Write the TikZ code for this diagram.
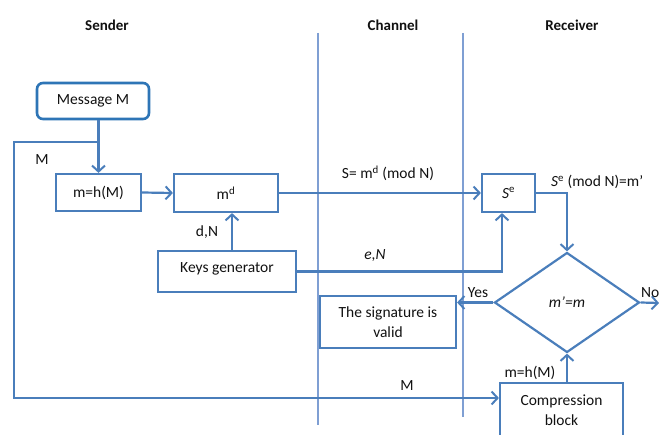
\documentclass[tikz,border=0pt]{standalone}
\usepackage{fontspec}
\setmainfont{Carlito}
\usetikzlibrary{shapes.geometric,arrows.meta}
\definecolor{lineblue}{HTML}{4A7EBB}
\definecolor{chanblue}{HTML}{7F9FD3}
\definecolor{msgblue}{HTML}{2E75B6}
\definecolor{txt}{HTML}{111111}
\tikzset{
  x=1pt,y=-1pt,
  every node/.style={text=txt,font=\fontsize{15.5}{18}\selectfont},
  box/.style={draw=lineblue,line width=2.2pt,inner sep=0pt,align=center},
  arr/.style={draw=lineblue,line width=2.2pt,-{Straight Barb[length=6pt,width=13pt,line width=2pt]}},
  hdr/.style={font=\bfseries\fontsize{15}{18}\selectfont},
  lbl/.style={inner sep=0pt}
}
\begin{document}
\begin{tikzpicture}
\useasboundingbox (0,0) rectangle (659,435);
% headers
\node[hdr] (hs) at (107,25) {Sender};
\node[hdr] (hc) at (393,25) {Channel};
\node[hdr] (hr) at (572,25) {Receiver};
% channel lines
\draw[chanblue,line width=1.3pt] (318,33) -- (318,425);
\draw[chanblue,line width=1.3pt] (463,33) -- (463,417);
% nodes
\node[box,draw=msgblue,line width=2.6pt,rounded corners=6pt,minimum width=112pt,minimum height=36pt] (msg) at (93,101) {Message M};
\node[box,minimum width=85pt,minimum height=37pt] (hash) at (98.5,192.5) {m=h(M)};
\node[box,minimum width=104pt,minimum height=38pt] (md) at (226,193) {m\textsuperscript{d}};
\node[box,minimum width=53pt,minimum height=38pt] (se) at (508.5,193) {\textit{S}\textsuperscript{e}};
\node[box,minimum width=138pt,minimum height=41pt,text depth=8pt] (keys) at (227,271.5) {Keys generator};
\node[box,diamond,aspect=1.45,minimum width=145pt,minimum height=100pt] (dia) at (567,302.5) {\textit{m'=m}};
\node[box,minimum width=136pt,minimum height=52pt] (valid) at (388,322) {The signature is\\[2pt]valid};
\node[box,minimum width=123pt,minimum height=54pt] (comp) at (561.5,410) {Compression\\[2pt]block};
% coordinates
\coordinate (br) at (99,142);
\coordinate (bl) at (14,142);
\coordinate (bb) at (14,398);
\coordinate (kx) at (232,0);
\coordinate (ex) at (502,0);
\coordinate (noend) at (659,303);
% connectors
\draw[arr] (hash.north |- msg.south) -- (hash.north);
\draw[arr] (br) -- (bl) -- (bb) -- (bb -| comp.west);
\draw[arr] (hash.east) -- (md.west);
\draw[arr] (md.east) -- (se.west);
\draw[arr] (keys.north -| kx) -- (md.south -| kx);
\draw[arr] (keys.east) -- (keys.east -| ex) -- (se.south -| ex);
\draw[arr] (se.east) -| (dia.north);
\draw[arr] (dia.west) -- (dia.west -| valid.east);
\draw[arr] (dia.east) -- (noend);
\draw[arr] (dia.south |- comp.north) -- (dia.south);
% labels
\node[lbl] (lm1) at (42,160) {M};
\node[lbl] (ls) at (388,173) {S= m\textsuperscript{d} (mod N)};
\node[lbl] (ldn) at (207,232) {d,N};
\node[lbl] (len) at (375,256) {\textit{e,N}};
\node[lbl,anchor=west] (lse) at (551,182) {\textit{S}\textsuperscript{e} (mod N)=m’};
\node[lbl] (lyes) at (478,293) {Yes};
\node[lbl,anchor=west] (lno) at (641,293) {No};
\node[lbl] (lmh) at (530,373) {m=h(M)};
\node[lbl] (lm2) at (407,386) {M};
\end{tikzpicture}
\end{document}
